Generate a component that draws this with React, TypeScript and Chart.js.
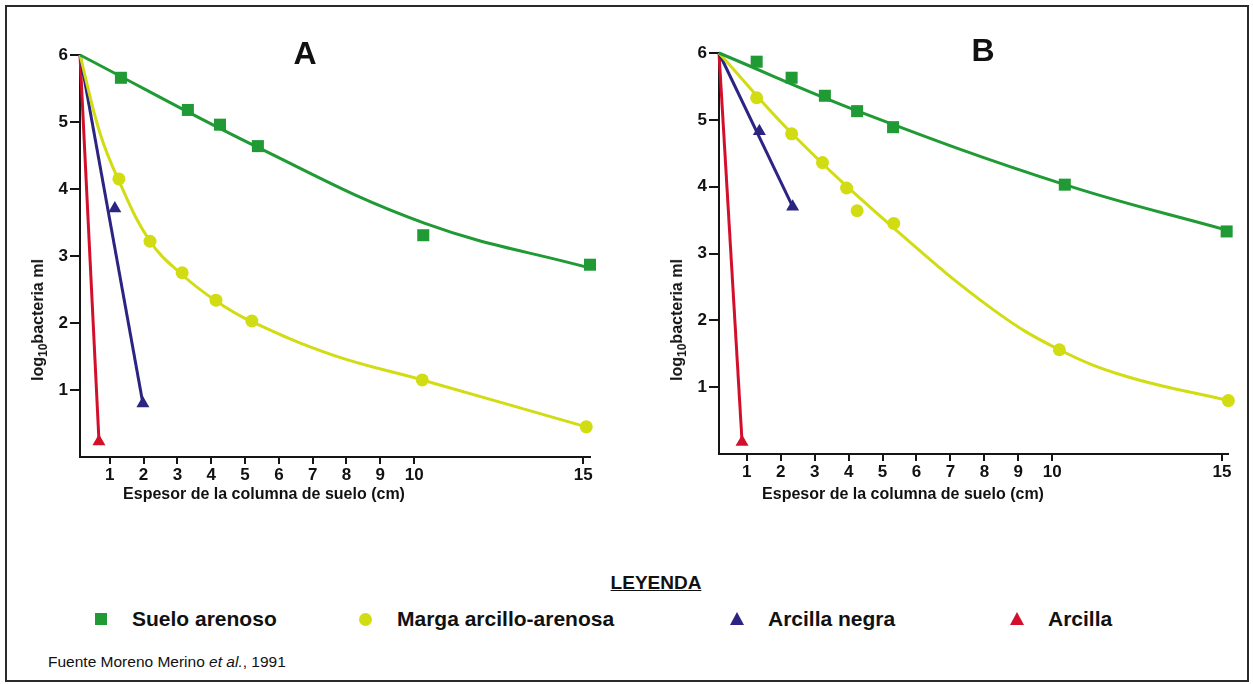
import React, { useEffect, useRef } from 'react';
import { Chart, registerables } from 'chart.js';
Chart.register(...registerables);

// ---------- axis ticks ----------
const xTickValues = [1, 2, 3, 4, 5, 6, 7, 8, 9, 10, 15];
const yTickValues = [1, 2, 3, 4, 5, 6];

const seriesNames = ['Suelo arenoso', 'Marga arcillo-arenosa', 'Arcilla negra', 'Arcilla'];
const seriesColors = ['#1f9a34', '#d2dc12', '#2c2482', '#d3102c'];

// ---------- Panel A : measured points ----------
const aSueloX = [1.33, 3.31, 4.26, 5.38, 10.27, 15.2];
const aSueloY = [5.66, 5.18, 4.96, 4.64, 3.31, 2.87];
const aMargaX = [1.27, 2.19, 3.14, 4.14, 5.2, 10.24, 15.09];
const aMargaY = [4.15, 3.22, 2.75, 2.34, 2.03, 1.15, 0.45];
const aNegraX = [1.15, 1.98];
const aNegraY = [3.71, 0.8];
const aArcillaX = [0.68];
const aArcillaY = [0.23];

// ---------- Panel A : fitted curves ----------
const aSueloFitX = [0.12, 5.38, 10.3, 15.2];
const aSueloFitY = [6.0, 4.62, 3.49, 2.82];
const aMargaFitX = [0.12, 0.7, 1.27, 2.19, 3.14, 4.14, 5.2, 7.6, 10.24, 15.09];
const aMargaFitY = [6.0, 4.85, 4.12, 3.22, 2.72, 2.33, 2.02, 1.52, 1.15, 0.45];
const aNegraFitX = [0.12, 1.98];
const aNegraFitY = [6.0, 0.8];
const aArcillaFitX = [0.12, 0.68];
const aArcillaFitY = [6.0, 0.25];

// ---------- Panel B : measured points ----------
const bSueloX = [1.29, 2.32, 3.3, 4.25, 5.31, 10.37, 15.14];
const bSueloY = [5.87, 5.63, 5.36, 5.13, 4.89, 4.03, 3.33];
const bMargaX = [1.29, 2.32, 3.23, 3.94, 4.25, 5.33, 10.21, 15.19];
const bMargaY = [5.33, 4.79, 4.36, 3.98, 3.64, 3.45, 1.56, 0.8];
const bNegraX = [1.37, 2.35];
const bNegraY = [4.83, 3.7];
const bArcillaX = [0.86];
const bArcillaY = [0.18];

// ---------- Panel B : fitted curves ----------
const bSueloFitX = [0.18, 4.33, 10.37, 15.14];
const bSueloFitY = [6.0, 5.12, 4.03, 3.35];
const bMargaFitX = [0.18, 2.32, 5.33, 8.26, 10.21, 12.19, 15.19];
const bMargaFitY = [6.0, 4.8, 3.38, 2.16, 1.56, 1.16, 0.8];
const bNegraFitX = [0.18, 2.35];
const bNegraFitY = [6.0, 3.7];
const bArcillaFitX = [0.18, 0.86];
const bArcillaFitY = [6.0, 0.18];

const FONT = '"Liberation Sans", Arial, Helvetica, sans-serif';

const pts = (xs: number[], ys: number[]) => xs.map((x, i) => ({ x, y: ys[i] }));

type PanelDef = {
  xMin: number;
  xMax: number;
  yAxisWidth: number;
  padding: { left: number; right: number; top: number; bottom: number };
  markers: { x: number[]; y: number[] }[];
  fits: { x: number[]; y: number[]; smooth: boolean }[];
};

const markerStyles = [
  { pointStyle: 'rect', radius: 8.5 },
  { pointStyle: 'circle', radius: 6.5 },
  { pointStyle: 'triangle', radius: 7.5 },
  { pointStyle: 'triangle', radius: 7.5 },
];

function buildConfig(p: PanelDef): any {
  const datasets: any[] = [];
  p.markers.forEach((m, i) => {
    datasets.push({
      label: seriesNames[i],
      data: pts(m.x, m.y),
      showLine: false,
      pointStyle: markerStyles[i].pointStyle,
      pointRadius: markerStyles[i].radius,
      pointBackgroundColor: seriesColors[i],
      pointBorderColor: seriesColors[i],
      pointBorderWidth: 0,
      order: 0,
      clip: false,
    });
  });
  p.fits.forEach((f, i) => {
    datasets.push({
      label: seriesNames[i] + ' (ajuste)',
      data: pts(f.x, f.y),
      showLine: true,
      borderColor: seriesColors[i],
      borderWidth: 3,
      pointRadius: 0,
      fill: false,
      cubicInterpolationMode: 'default',
      tension: f.smooth ? 0.4 : 0,
      order: 1,
      clip: false,
    });
  });
  return {
    type: 'scatter',
    data: { datasets },
    options: {
      responsive: false,
      maintainAspectRatio: false,
      animation: false,
      events: [],
      layout: { padding: p.padding },
      plugins: { legend: { display: false }, tooltip: { enabled: false }, title: { display: false } },
      scales: {
        x: {
          type: 'linear',
          min: p.xMin,
          max: p.xMax,
          afterBuildTicks: (s: any) => {
            s.ticks = xTickValues.map((v) => ({ value: v }));
          },
          afterFit: (s: any) => {
            s.height = 50;
          },
          grid: { drawOnChartArea: false, drawTicks: true, tickLength: 7, color: '#151515', lineWidth: 2 },
          border: { display: true, color: '#151515', width: 2 },
          ticks: {
            autoSkip: false,
            maxRotation: 0,
            padding: 1,
            color: '#111',
            font: { family: FONT, weight: 'bold', size: 17 },
            callback: (v: any) => String(v),
          },
        },
        y: {
          type: 'linear',
          min: 0,
          max: 6,
          afterBuildTicks: (s: any) => {
            s.ticks = yTickValues.map((v) => ({ value: v }));
          },
          afterFit: (s: any) => {
            s.width = p.yAxisWidth;
          },
          grid: { drawOnChartArea: false, drawTicks: true, tickLength: 10, color: '#151515', lineWidth: 2 },
          border: { display: true, color: '#151515', width: 2 },
          ticks: {
            padding: 2,
            color: '#111',
            font: { family: FONT, weight: 'bold', size: 17 },
            callback: (v: any) => String(v),
          },
        },
      },
    },
  };
}

const panelA: PanelDef = {
  xMin: 0.12,
  xMax: 15.2,
  yAxisWidth: 80,
  padding: { left: 0, right: 50, top: 55, bottom: 33 },
  markers: [
    { x: aSueloX, y: aSueloY },
    { x: aMargaX, y: aMargaY },
    { x: aNegraX, y: aNegraY },
    { x: aArcillaX, y: aArcillaY },
  ],
  fits: [
    { x: aSueloFitX, y: aSueloFitY, smooth: true },
    { x: aMargaFitX, y: aMargaFitY, smooth: true },
    { x: aNegraFitX, y: aNegraFitY, smooth: false },
    { x: aArcillaFitX, y: aArcillaFitY, smooth: false },
  ],
};

const panelB: PanelDef = {
  xMin: 0.18,
  xMax: 15.18,
  yAxisWidth: 79,
  padding: { left: 0, right: 25, top: 53, bottom: 36 },
  markers: [
    { x: bSueloX, y: bSueloY },
    { x: bMargaX, y: bMargaY },
    { x: bNegraX, y: bNegraY },
    { x: bArcillaX, y: bArcillaY },
  ],
  fits: [
    { x: bSueloFitX, y: bSueloFitY, smooth: true },
    { x: bMargaFitX, y: bMargaFitY, smooth: true },
    { x: bNegraFitX, y: bNegraFitY, smooth: false },
    { x: bArcillaFitX, y: bArcillaFitY, smooth: false },
  ],
};

function Panel({ def, left, width, height }: { def: PanelDef; left: number; width: number; height: number }) {
  const ref = useRef<HTMLCanvasElement | null>(null);
  useEffect(() => {
    if (!ref.current) return;
    const chart = new Chart(ref.current, buildConfig(def));
    return () => chart.destroy();
  }, [def]);
  return (
    <canvas
      ref={ref}
      width={width}
      height={height}
      style={{ position: 'absolute', left, top: 0, width, height }}
    />
  );
}

const abs = (extra: React.CSSProperties): React.CSSProperties => ({
  position: 'absolute',
  fontFamily: FONT,
  color: '#111',
  whiteSpace: 'nowrap',
  ...extra,
});

function YTitle({ cx, cy }: { cx: number; cy: number }) {
  return (
    <div
      style={abs({
        left: cx,
        top: cy,
        transform: 'translate(-50%, -50%) rotate(-90deg)',
        fontWeight: 'bold',
        fontSize: 16,
        lineHeight: '18px',
      })}
    >
      log<sub style={{ fontSize: 12, verticalAlign: 'sub', lineHeight: 0 }}>10</sub>bacteria ml
    </div>
  );
}

function XTitle({ cx, cy }: { cx: number; cy: number }) {
  return (
    <div
      style={abs({
        left: cx,
        top: cy,
        transform: 'translate(-50%, -50%)',
        fontWeight: 'bold',
        fontSize: 16,
        lineHeight: '18px',
      })}
    >
      Espesor de la columna de suelo (cm)
    </div>
  );
}

function LegendMarker({ kind, color, cx, cy }: { kind: string; color: string; cx: number; cy: number }) {
  if (kind === 'square') {
    return <div style={{ position: 'absolute', left: cx - 6, top: cy - 6, width: 12, height: 12, background: color }} />;
  }
  if (kind === 'circle') {
    return (
      <div
        style={{ position: 'absolute', left: cx - 6.5, top: cy - 6.5, width: 13, height: 13, borderRadius: '50%', background: color }}
      />
    );
  }
  return (
    <div
      style={{
        position: 'absolute',
        left: cx - 7,
        top: cy - 7,
        width: 0,
        height: 0,
        borderLeft: '7px solid transparent',
        borderRight: '7px solid transparent',
        borderBottom: `13px solid ${color}`,
      }}
    />
  );
}

const legendKinds = ['square', 'circle', 'triangle', 'triangle'];
const legendMarkerX = [101, 365, 737, 1017];
const legendTextX = [132, 397, 768, 1048];

export default function App() {
  const legendY = 619;
  return (
    <div style={{ position: 'fixed', left: 0, top: 0, width: 1253, height: 684, background: '#fff', overflow: 'hidden' }}>
      <div
        style={{
          position: 'absolute',
          left: 5,
          top: 5,
          width: 1240,
          height: 673,
          border: '2px solid #2a2a2a',
        }}
      />
      <Panel def={panelA} left={0} width={640} height={540} />
      <Panel def={panelB} left={640} width={613} height={540} />

      <div style={abs({ left: 305, top: 53, transform: 'translate(-50%, -50%)', fontWeight: 'bold', fontSize: 32, lineHeight: '34px' })}>A</div>
      <div style={abs({ left: 983, top: 50, transform: 'translate(-50%, -50%)', fontWeight: 'bold', fontSize: 32, lineHeight: '34px' })}>B</div>

      <YTitle cx={38} cy={320} />
      <YTitle cx={677} cy={320} />
      <XTitle cx={264} cy={494} />
      <XTitle cx={903} cy={494} />

      <div
        style={abs({
          left: 656,
          top: 583,
          transform: 'translate(-50%, -50%)',
          fontWeight: 'bold',
          fontSize: 19,
          lineHeight: '22px',
          textDecoration: 'underline',
        })}
      >
        LEYENDA
      </div>

      {seriesNames.map((name, i) => (
        <React.Fragment key={name}>
          <LegendMarker kind={legendKinds[i]} color={seriesColors[i]} cx={legendMarkerX[i]} cy={legendY} />
          <div
            style={abs({
              left: legendTextX[i],
              top: legendY - 12,
              height: 24,
              lineHeight: '24px',
              fontWeight: 'bold',
              fontSize: 21,
            })}
          >
            {name}
          </div>
        </React.Fragment>
      ))}

      <div style={abs({ left: 48, top: 651, lineHeight: '22px', fontSize: 15.5 })}>
        Fuente Moreno Merino <i>et al.</i>, 1991
      </div>
    </div>
  );
}
